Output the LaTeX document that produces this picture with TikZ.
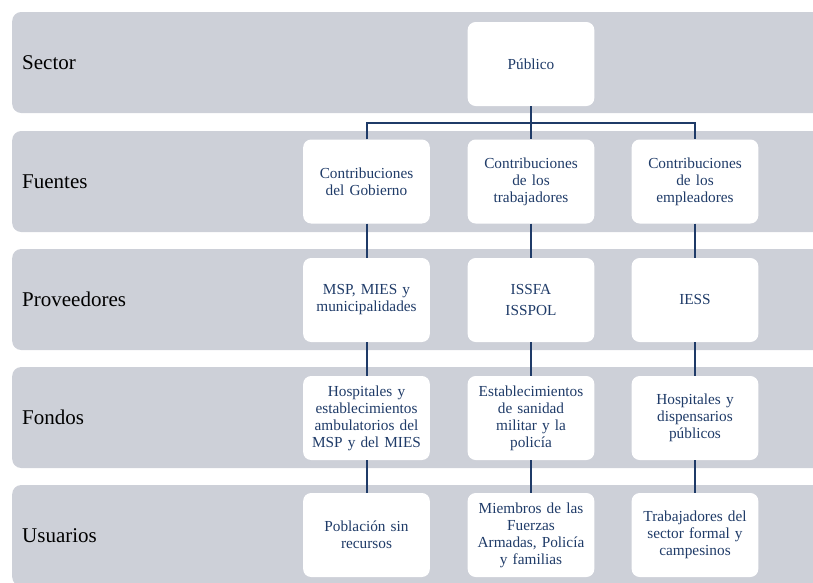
\documentclass[tikz,border=0pt]{standalone}
\usepackage{fontspec}
\setmainfont{Liberation Serif}
\usetikzlibrary{positioning}

\definecolor{bandgray}{HTML}{CDD0D8}
\definecolor{navy}{HTML}{1F3B68}

\tikzset{
  band/.style={rectangle, rounded corners=9pt, fill=bandgray, minimum width=840pt, minimum height=101pt, anchor=west},
  rowlabel/.style={anchor=west, inner sep=0pt, font=\fontsize{21}{25}\selectfont},
  cell/.style={rectangle, rounded corners=8pt, fill=white, minimum width=126pt, minimum height=84pt, text width=120pt, align=center, text=navy, font=\fontsize{15.3}{16.9}\selectfont},
  link/.style={draw=navy, line width=2pt}
}

\begin{document}
\begin{tikzpicture}[x=1pt,y=-1pt]
    \useasboundingbox (0,0) rectangle (813,582);
    \clip (0,0) rectangle (813,582);

    % franjas
    \node[band] (bsector) at (12,62.5) {};
    \node[band] (bfuentes) at (12,181.5) {};
    \node[band] (bprov) at (12,299.5) {};
    \node[band] (bfondos) at (12,417.5) {};
    \node[band] (busuarios) at (12,535.5) {};

    % etiquetas
    \node[rowlabel] (lsector) at (22,62.5) {Sector};
    \node[rowlabel] (lfuentes) at (22,181.5) {Fuentes};
    \node[rowlabel] (lprov) at (22,299.5) {Proveedores};
    \node[rowlabel] (lfondos) at (22,417.5) {Fondos};
    \node[rowlabel] (lusuarios) at (22,535.5) {Usuarios};

    % cajas
    \node[cell] (publico) at (531,64) {Público};

    \node[cell] (gobierno) at (366.5,181.5) {Contribuciones\\del Gobierno};
    \node[cell] (trabaj) at (531,181.5) {Contribuciones\\de los\\trabajadores};
    \node[cell] (emplead) at (695,181.5) {Contribuciones\\de los\\empleadores};

    \node[cell] (msp) at (366.5,300) {MSP, MIES y\\municipalidades};
    \node[cell] (issfa) at (531,300) {ISSFA\\[5pt]ISSPOL};
    \node[cell] (iess) at (695,300) {IESS};

    \node[cell] (hospmsp) at (366.5,418) {Hospitales y\\establecimientos\\ambulatorios del\\MSP y del MIES};
    \node[cell] (sanidad) at (531,418) {Establecimientos\\de sanidad\\militar y la\\policía};
    \node[cell] (hospiess) at (695,418) {Hospitales y\\dispensarios\\públicos};

    \node[cell] (poblacion) at (366.5,535) {Población sin\\recursos};
    \node[cell] (miembros) at (531,535) {Miembros de las\\Fuerzas\\Armadas, Policía\\y familias};
    \node[cell] (trabform) at (695,535) {Trabajadores del\\sector formal y\\campesinos};

    % conectores
    \draw[link] (publico.south) -- ++(0,17) coordinate (split);
    \draw[link] (gobierno.north) |- (split) -| (emplead.north);
    \draw[link] (split) -- (trabaj.north);

    \draw[link] (gobierno) -- (msp);
    \draw[link] (msp) -- (hospmsp);
    \draw[link] (hospmsp) -- (poblacion);
    \draw[link] (trabaj) -- (issfa);
    \draw[link] (issfa) -- (sanidad);
    \draw[link] (sanidad) -- (miembros);
    \draw[link] (emplead) -- (iess);
    \draw[link] (iess) -- (hospiess);
    \draw[link] (hospiess) -- (trabform);
\end{tikzpicture}
\end{document}
